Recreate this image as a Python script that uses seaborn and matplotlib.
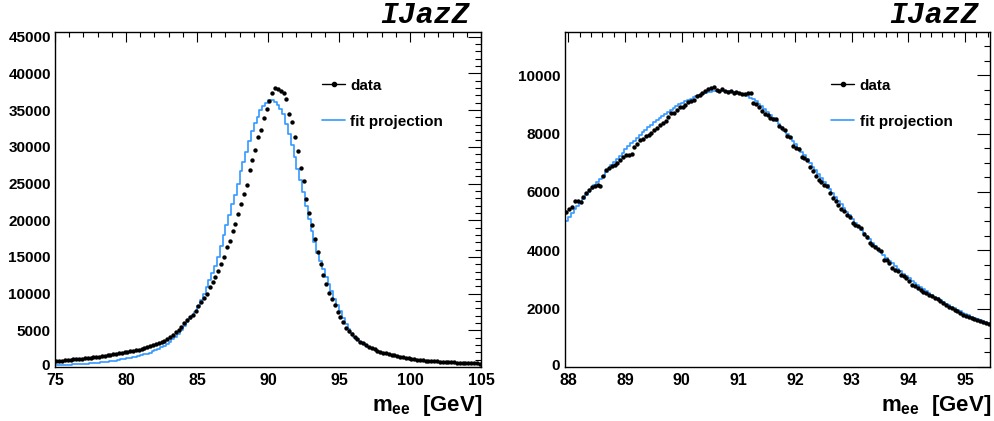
import numpy as np
import pandas as pd
import matplotlib
matplotlib.use("Agg")
import matplotlib.pyplot as plt
import matplotlib.transforms as mtransforms
import seaborn as sns
from matplotlib.lines import Line2D
from matplotlib.ticker import MultipleLocator

sns.set_theme(style="white")
plt.rcParams['font.family'] = ['Liberation Sans', 'DejaVu Sans']
plt.rcParams['mathtext.fontset'] = 'custom'
plt.rcParams['mathtext.bf'] = 'Liberation Sans:bold'
plt.rcParams['mathtext.rm'] = 'Liberation Sans:bold'
plt.rcParams['mathtext.it'] = 'Liberation Sans:bold'
for key in ['text.color', 'axes.labelcolor', 'xtick.color', 'ytick.color', 'axes.edgecolor']:
    plt.rcParams[key] = 'black'

# ---------------- data ----------------
left_range = (75.0, 105.0)
right_range = (87.94, 95.44)

left_data = [
    790, 820, 850, 890, 940, 990, 1030, 1070, 1110, 1150,
    1180, 1220, 1270, 1320, 1370, 1430, 1490, 1540, 1600, 1660,
    1720, 1790, 1850, 1910, 1980, 2060, 2140, 2220, 2310, 2380,
    2480, 2580, 2680, 2800, 2930, 3070, 3240, 3400, 3580, 3800,
    4080, 4400, 4750, 5090, 5500, 5950, 6400, 6750, 7150, 7650,
    8250, 8800, 9450, 10000, 10900, 11550, 12230, 13100, 14100, 15000,
    16300, 17150, 18500, 19550, 20900, 22200, 23600, 24850, 26900, 28200,
    29540, 31300, 32330, 33900, 35200, 36200, 37300, 38040, 37820, 37590,
    37270, 36540, 34540, 33360, 31400, 29450, 27180, 25320, 22830, 21000,
    19300, 17450, 15680, 14090, 12500, 11360, 10100, 9250, 8400, 7450,
    6820, 6140, 5370, 4910, 4500, 4100, 3780, 3420, 3230, 2980,
    2760, 2570, 2390, 2200, 2060, 1950, 1840, 1760, 1670, 1600,
    1490, 1400, 1320, 1250, 1180, 1130, 1060, 1000, 930, 890,
    860, 830, 800, 780, 750, 720, 700, 680, 660, 640,
    620, 600, 590, 570, 560, 550, 530, 510, 490, 470,
]

left_fit = [
    230, 250, 270, 290, 320, 340, 360, 380, 400, 430,
    450, 470, 500, 530, 560, 600, 640, 680, 720, 770,
    830, 880, 940, 1030, 1100, 1170, 1240, 1320, 1410, 1500,
    1600, 1710, 1830, 1970, 2120, 2300, 2500, 2700, 2920, 3180,
    3450, 3750, 4100, 4520, 5000, 5550, 6100, 6500, 6950, 7550,
    8300, 9100, 10000, 10900, 11900, 12800, 13800, 15000, 16500, 18000,
    19400, 20700, 22200, 23400, 25000, 26700, 28000, 29300, 30800, 32200,
    33300, 34000, 35000, 35500, 36000, 36350, 36350, 36150, 35700, 35100,
    34500, 33100, 31700, 30200, 28600, 27000, 25500, 23800, 22000, 20200,
    18500, 17000, 15600, 14400, 13400, 12300, 11300, 10300, 9300, 8400,
    7600, 6700, 5800, 5200, 4600, 4150, 3780, 3450, 3220, 3000,
    2780, 2580, 2400, 2220, 2070, 1940, 1830, 1730, 1640, 1560,
    1480, 1400, 1330, 1260, 1190, 1130, 1070, 1020, 970, 920,
    880, 840, 800, 770, 740, 710, 680, 650, 630, 600,
    580, 560, 540, 520, 500, 490, 470, 460, 440, 430,
]

right_data = [
    5310, 5420, 5480, 5700, 5680, 5650, 5830, 5960, 6080, 6170,
    6200, 6230, 6190, 6560, 6760, 6830, 6880, 6930, 6980, 7090,
    7190, 7250, 7280, 7300, 7540, 7650, 7770, 7830, 7900, 7960,
    8020, 8130, 8190, 8280, 8360, 8440, 8560, 8690, 8700, 8800,
    8900, 8920, 8990, 9070, 9130, 9160, 9280, 9330, 9380, 9450,
    9510, 9550, 9580, 9490, 9460, 9510, 9450, 9430, 9470, 9390,
    9430, 9380, 9350, 9370, 9380, 9400, 9060, 9020, 8920, 8760,
    8680, 8620, 8530, 8500, 8490, 8250, 8180, 8110, 7920, 7880,
    7560, 7500, 7470, 7210, 7150, 7080, 6860, 6720, 6540, 6410,
    6330, 6240, 6200, 5950, 5800, 5680, 5540, 5430, 5330, 5220,
    5150, 4950, 4880, 4840, 4760, 4550, 4460, 4240, 4180, 4100,
    4050, 3990, 3670, 3660, 3560, 3380, 3330, 3290, 3140, 3110,
    3040, 2930, 2800, 2760, 2720, 2640, 2570, 2520, 2470, 2420,
    2370, 2330, 2250, 2180, 2130, 2070, 2030, 1970, 1920, 1850,
    1780, 1750, 1700, 1680, 1640, 1610, 1580, 1540, 1520, 1490,
]

right_fit = [
    4990, 5140, 5270, 5400, 5520, 5640, 5760, 5880, 5990, 6110,
    6220, 6330, 6450, 6560, 6680, 6790, 6910, 7020, 7130, 7240,
    7350, 7460, 7560, 7660, 7760, 7860, 7950, 8040, 8130, 8220,
    8300, 8380, 8460, 8540, 8610, 8680, 8750, 8820, 8880, 8940,
    9000, 9050, 9100, 9150, 9200, 9240, 9280, 9320, 9350, 9380,
    9410, 9430, 9450, 9460, 9470, 9470, 9470, 9460, 9450, 9440,
    9420, 9390, 9360, 9320, 9280, 9230, 9170, 9100, 9020, 8930,
    8840, 8740, 8640, 8540, 8430, 8320, 8210, 8100, 7990, 7870,
    7750, 7630, 7500, 7380, 7250, 7130, 7000, 6870, 6740, 6610,
    6480, 6350, 6220, 6090, 5960, 5830, 5700, 5570, 5450, 5320,
    5200, 5070, 4950, 4830, 4710, 4600, 4480, 4370, 4260, 4150,
    4040, 3940, 3840, 3740, 3640, 3550, 3460, 3370, 3280, 3200,
    3120, 3040, 2960, 2890, 2810, 2740, 2670, 2600, 2530, 2470,
    2410, 2350, 2290, 2230, 2170, 2120, 2060, 2010, 1960, 1910,
    1860, 1820, 1770, 1730, 1690, 1650, 1610, 1570, 1540, 1500,
]

x_ticks_left = [75, 80, 85, 90, 95, 100, 105]
x_ticks_right = [88, 89, 90, 91, 92, 93, 94, 95]
y_ticks_left = [0, 5000, 10000, 15000, 20000, 25000, 30000, 35000, 40000, 45000]
y_ticks_right = [0, 2000, 4000, 6000, 8000, 10000]
legend_labels = ["data", "fit projection"]
title_text = "IJazZ"
xlabel_text = r"$\mathbf{m_{ee}}$  [GeV]"

BLUE = "#3399ff"

W, H = 995, 421
fig = plt.figure(figsize=(W / 100, H / 100), dpi=100)

panels = [
    dict(rect=(55, 32, 481, 367), rng=left_range, data=left_data, fit=left_fit,
         ymax=45650, xt=x_ticks_left, yt=y_ticks_left, xminor=1.0, yminor=1000),
    dict(rect=(565, 32, 990, 367), rng=right_range, data=right_data, fit=right_fit,
         ymax=11480, xt=x_ticks_right, yt=y_ticks_right, xminor=0.2, yminor=500),
]

for p in panels:
    x0, y0, x1, y1 = p["rect"]
    ax = fig.add_axes([x0 / W, 1 - y1 / H, (x1 - x0) / W, (y1 - y0) / H])
    n = len(p["data"])
    edges = np.linspace(p["rng"][0], p["rng"][1], n + 1)
    centers = 0.5 * (edges[:-1] + edges[1:])
    df = pd.DataFrame({"mass": centers, "fit": p["fit"], "data": p["data"]})

    sns.histplot(data=df, x="mass", weights="fit", bins=n, binrange=p["rng"],
                 element="step", fill=False, color=BLUE, linewidth=1.2, ax=ax)
    sns.scatterplot(data=df, x="mass", y="data", color="black", s=10,
                    linewidth=0, ax=ax, legend=False, zorder=3)

    ax.set_xlim(*p["rng"])
    ax.set_ylim(0, p["ymax"])
    ax.set_xticks(p["xt"])
    ax.set_yticks(p["yt"])
    ax.set_xticklabels([str(v) for v in p["xt"]])
    ax.set_yticklabels([str(v) for v in p["yt"]])
    ax.xaxis.set_minor_locator(MultipleLocator(p["xminor"]))
    ax.yaxis.set_minor_locator(MultipleLocator(p["yminor"]))
    ax.set_xlabel("")
    ax.set_ylabel("")
    ax.tick_params(axis="both", which="both", direction="in", top=True, right=True,
                   colors="black", width=0.8)
    ax.tick_params(axis="x", which="major", length=7.2, pad=4.0, labelsize=11.5)
    ax.tick_params(axis="x", which="minor", length=3.6)
    ax.tick_params(axis="y", which="major", length=9.2, pad=3.0, labelsize=11)
    ax.tick_params(axis="y", which="minor", length=4.6)
    for lab in ax.get_xticklabels() + ax.get_yticklabels():
        lab.set_fontweight("bold")
    # nudge the "0" y label slightly up so it does not collide with the first x label
    zero_lab = ax.get_yticklabels()[0]
    zero_lab.set_transform(zero_lab.get_transform() +
                           mtransforms.ScaledTranslation(-1 / 100, 3 / 100, fig.dpi_scale_trans))
    for s in ax.spines.values():
        s.set_color("black")
        s.set_linewidth(1.0)
        s.set_visible(True)
    ax.grid(False)

    h_data = Line2D([], [], color="black", marker="o", markersize=3, lw=1.0)
    h_fit = Line2D([], [], color=BLUE, lw=1.2)
    leg = ax.legend([h_data, h_fit], legend_labels, loc="center left",
                    bbox_to_anchor=(0.627, 0.786), frameon=False,
                    prop={"weight": "bold", "size": 11}, handlelength=1.5,
                    handletextpad=0.35, labelspacing=1.45, borderpad=0,
                    borderaxespad=0)
    for t in leg.get_texts():
        t.set_color("black")

    fig.text((x1 - 11) / W, 1 - 23 / H, title_text, ha="right", va="baseline",
             family="Liberation Mono", weight="bold", style="italic", fontsize=21.5)
    fig.text((x1 + 1) / W, 1 - 406 / H, xlabel_text, ha="right", va="center",
             fontsize=16, weight="bold")

fig.savefig("out.png", dpi=100)
